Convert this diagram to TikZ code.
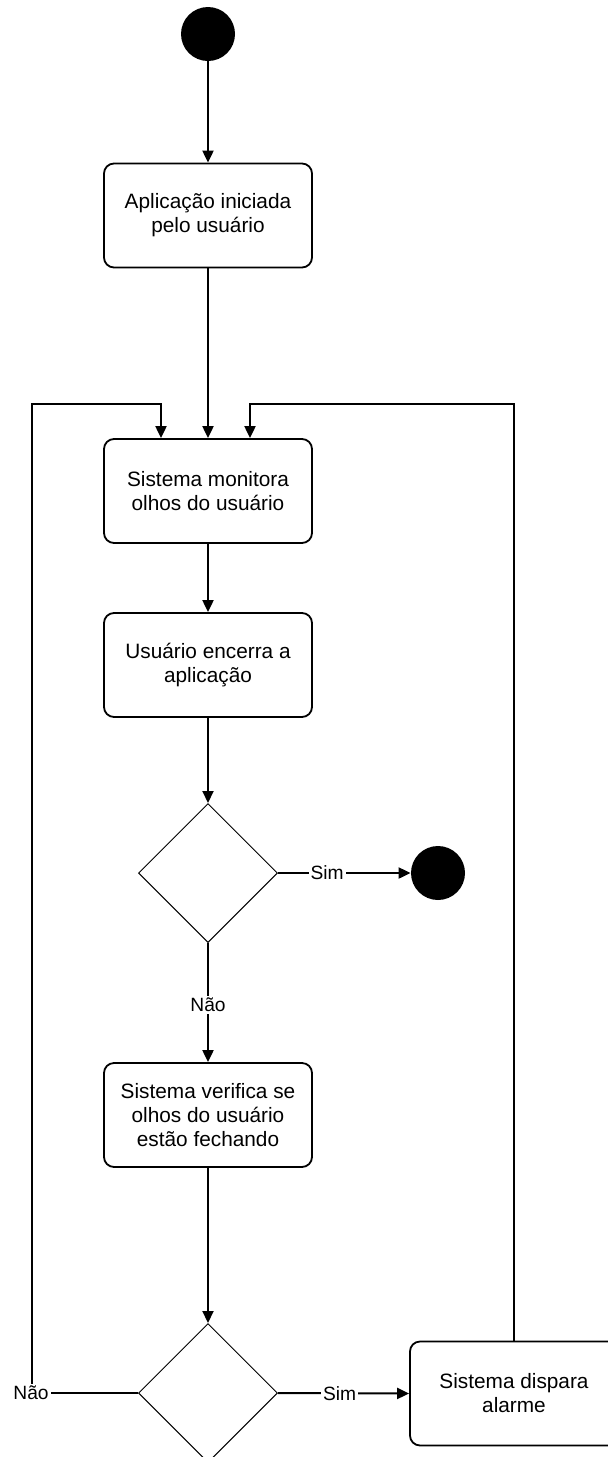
\documentclass[tikz,border=0pt]{standalone}
\usepackage{fontspec}
\setmainfont{Liberation Sans}[Ligatures=CommonOff]
\usetikzlibrary{arrows.meta,shapes.geometric,calc}
\begin{document}
\begin{tikzpicture}[x=0.5pt,y=-0.5pt,
  actbox/.style={draw,line width=0.9pt,rounded corners=5pt,minimum width=104pt,minimum height=52pt,align=center,inner sep=2pt,font=\fontsize{10.4}{12}\selectfont},
  decbox/.style={draw,line width=0.5pt,diamond,aspect=1,minimum width=69.5pt,minimum height=69.5pt,inner sep=0pt},
  dot/.style={circle,fill=black,minimum size=27pt,inner sep=0pt},
  arr/.style={line width=1pt,-{Triangle[length=6pt,width=5.5pt]}},
  edge/.style={line width=1pt},
  lbl/.style={fill=white,inner sep=1pt,font=\fontsize{9.6}{11}\selectfont}
]
\useasboundingbox[fill=white] (0,0) rectangle (608,1457);

\node[dot] (start) at (208,34) {};
\node[actbox] (b1) at (208,215.5) {Aplicação iniciada\\pelo usuário};
\node[actbox] (b2) at (208,491) {Sistema monitora\\olhos do usuário};
\node[actbox] (b3) at (208,665) {Usuário encerra a\\aplicação};
\node[decbox] (d1) at (208,873) {};
\node[dot] (end) at (438,873) {};
\node[actbox] (b4) at (208,1115) {Sistema verifica se\\olhos do usuário\\estão fechando};
\node[decbox] (d2) at (208,1393) {};
\node[actbox] (b5) at (514,1393.5) {Sistema dispara\\alarme};

\node[lbl] (naoL) at (31,1393) {Não};
\coordinate (cL) at (32,404);
\coordinate (cLt) at (161,404);
\coordinate (cR) at (514,404);
\coordinate (cRt) at (250,404);

\draw[arr] (start) -- (b1);
\draw[arr] (b1) -- (b2);
\draw[arr] (b2) -- (b3);
\draw[arr] (b3) -- (d1);
\draw[arr] (d1.east) -- node[lbl,pos=0.37]{Sim} (end);
\draw[arr] (d1.south) -- node[lbl,pos=0.52]{Não} (b4);
\draw[arr] (b4) -- (d2);
\draw[arr] (d2.east) -- node[lbl,pos=0.47]{Sim} (b5.west);
\draw[edge] (d2.west) -- (naoL.east |- d2.west);
\draw[arr] (naoL.north -| cL) -- (cL) -- (cLt) -- (cLt |- b2.north);
\draw[arr] (cR |- b5.north) -- (cR) -- (cRt) -- (cRt |- b2.north);
\end{tikzpicture}
\end{document}
